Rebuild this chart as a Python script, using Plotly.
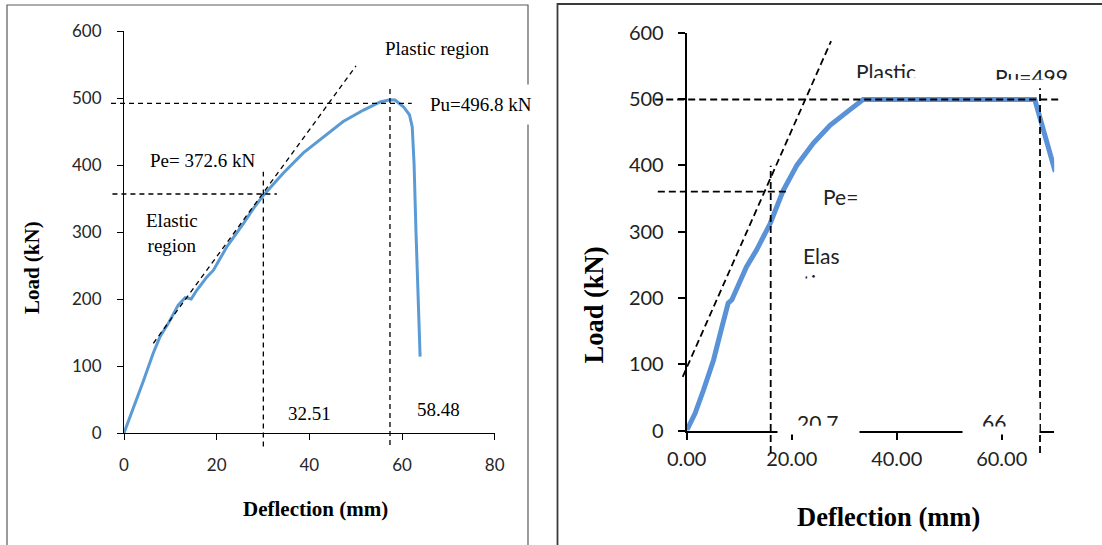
import plotly.graph_objects as go

W, H = 1102, 545

# ---------------- data ----------------
# Left specimen: load-deflection curve
left_defl = [0, 2.0, 4.2, 6.3, 7.8, 9.6, 11.7, 13.2, 14.5, 15.7, 17.9, 19.3, 22.2, 25.8, 27.9,
             30.1, 32.5, 34.4, 38.7, 43.0, 47.3, 51.7, 55.3, 57.4, 58.5, 60.3, 61.6, 62.2,
             62.6, 63.0, 63.5, 63.9]
left_load = [0, 36, 78, 119, 144, 164, 191, 202, 200, 213, 233, 243, 278, 313, 335,
             355, 374, 388, 418, 442, 465, 482, 494, 497.5, 497, 487, 475, 457,
             402, 303, 203, 114]

# Right specimen: load-deflection curve
right_defl = [0, 1.6, 3.2, 5.1, 6.7, 7.9, 8.6, 9.5, 11.4, 13.3, 15.9, 18.4, 21.0, 24.1,
              27.3, 30.5, 33.6, 66.3, 70.2]
right_load = [0, 26, 61, 106, 156, 192, 197, 212, 247, 272, 312, 362, 400, 433,
              460, 480, 499, 499, 390]

# Reference (construction) lines: [x0, y0, x1, y1] in deflection / load units
left_refs = [
    [-2.8, 492, 62.1, 492],        # Pu horizontal
    [57.4, -18, 57.4, 518],        # Pu vertical
    [-2.5, 356.7, 33.0, 356.7],    # Pe horizontal
    [30.07, -20, 30.07, 390],      # Pe vertical
    [6.33, 133.9, 50.07, 547.8],   # initial-stiffness tangent
]
right_refs = [
    [-6.0, 499, 70.8, 499],
    [67.3, -34, 67.3, 516],
    [-5.5, 360, 19.4, 360],
    [16.0, -34, 16.0, 399],
    [-0.76, 81, 27.5, 587],
]

left_xrange = [0, 80]
right_xrange = [0, 70]
load_range = [0, 600]
left_xticks = [0, 20, 40, 60, 80]
left_xticktext = ["0", "20", "40", "60", "80"]
right_xticks = [0, 20, 40, 60]
right_xticktext = ["0.00", "20.00", "40.00", "60.00"]
yticks = [0, 100, 200, 300, 400, 500, 600]

# ---------------- helpers ----------------
def px(x):
    return x / W

def py(y):
    return 1 - y / H

SERIF = "Liberation Serif"
SANS = "Lato"

fig = go.Figure()
fig.add_trace(go.Scatter(x=left_defl, y=left_load, mode="lines",
                         line=dict(color="#5B9BD5", width=3), xaxis="x", yaxis="y",
                         showlegend=False, hoverinfo="skip"))
fig.add_trace(go.Scatter(x=right_defl, y=right_load, mode="lines",
                         line=dict(color="#5A92D7", width=5), xaxis="x2", yaxis="y2",
                         showlegend=False, hoverinfo="skip"))

def frac(v, r):
    return (v - r[0]) / (r[1] - r[0])

shapes = []
def add_refs(refs, xa, ya, xr, yr, width, dash):
    for x0, y0, x1, y1 in refs:
        shapes.append(dict(type="line", xref=xa + " domain", yref=ya + " domain",
                           x0=frac(x0, xr), y0=frac(y0, yr), x1=frac(x1, xr), y1=frac(y1, yr),
                           line=dict(color="black", width=width, dash=dash), layer="above"))

add_refs(left_refs, "x", "y", left_xrange, load_range, 1.3, "5px,4px")
add_refs(right_refs, "x2", "y2", right_xrange, load_range, 1.8, "7px,4px")

# panel borders
shapes.append(dict(type="rect", xref="paper", yref="paper", x0=px(7), x1=px(528),
                   y0=py(5), y1=py(560), line=dict(color="#5a5a5a", width=1.2),
                   fillcolor="rgba(0,0,0,0)", layer="below"))
shapes.append(dict(type="rect", xref="paper", yref="paper", x0=px(557.5), x1=px(1120),
                   y0=py(4), y1=py(560), line=dict(color="#3a3a3a", width=1.8),
                   fillcolor="rgba(0,0,0,0)", layer="below"))

ann = []
def text(t, x, y, size, family=SERIF, color="black", bold=False, **kw):
    if bold:
        t = "<b>" + t + "</b>"
    d = dict(text=t, x=px(x), y=py(y), xref="paper", yref="paper", showarrow=False,
             font=dict(family=family, size=size, color=color), xanchor="center",
             yanchor="middle")
    d.update(kw)
    ann.append(d)

# left panel texts
text("Plastic region", 437, 48, 19)
text("Pe= 372.6 kN", 202, 161, 19)
text("Elastic<br>region", 172, 233, 19)
text("32.51", 309.5, 413.3, 19)
text("58.48", 438.6, 409.3, 19)
text("Pu=496.8 kN", 480.5, 104, 19, bgcolor="white", borderpad=9)
text("Load (kN)", 31.6, 267.5, 21, bold=True, textangle=-90)
text("Deflection (mm)", 315, 509, 21, bold=True)

# right panel titles
text("Load (kN)", 593.5, 305, 26.5, bold=True, textangle=-90)
text("Deflection (mm)", 888.5, 517, 26.5, bold=True)

# right panel: white masking boxes over the axis
def box(x, y, w, h):
    ann.append(dict(text=" ", x=px(x), y=py(y), xref="paper", yref="paper", showarrow=False,
                    xanchor="left", yanchor="top", width=w, height=h, bgcolor="white",
                    borderpad=0, font=dict(size=10)))

box(777, 400, 81, 33)
box(961.7, 400, 76.3, 33)

# right panel: clipped text boxes
def clipped(t, x, y, w, h):
    ann.append(dict(text=t, x=px(x), y=py(y), xref="paper", yref="paper", showarrow=False,
                    xanchor="left", yanchor="top", width=w, height=h, align="left",
                    valign="top", borderpad=0,
                    font=dict(family=SANS, size=21, color="#222222")))

clipped("Plastic<br>region", 855, 57.6, 78, 19)
clipped("Pu=499<br>kN", 994, 62.6, 82, 15.7)
clipped("Pe=<br>372.6 kN", 822, 182.6, 60, 23.5)
clipped("Elas<br>tic region", 802, 242.3, 41, 35.5)
clipped("20.7", 796, 409.3, 52, 15.7)
clipped("66", 981, 407.6, 32, 17.4)

axis_common = dict(showgrid=False, zeroline=False, showline=True, linecolor="black",
                   ticks="outside", tickcolor="black", fixedrange=True)

fig.update_layout(
    width=W, height=H, margin=dict(l=0, r=0, t=0, b=0, autoexpand=False),
    paper_bgcolor="white", plot_bgcolor="white",
    font=dict(family=SANS),
    xaxis=dict(domain=[px(124), px(494.7)], range=left_xrange, tickvals=left_xticks,
               ticktext=left_xticktext, linewidth=1, ticklen=6, tickwidth=1,
               tickfont=dict(family=SANS, size=17, color="#262626"), anchor="y",
               ticklabelstandoff=11, **axis_common),
    yaxis=dict(domain=[py(433), py(31)], range=load_range, tickvals=yticks,
               linewidth=1, ticklen=6, tickwidth=1,
               tickfont=dict(family=SANS, size=17, color="#262626"), anchor="x",
               ticklabelstandoff=12, **axis_common),
    xaxis2=dict(domain=[px(686.7), px(1054.2)], range=right_xrange, tickvals=right_xticks,
                ticktext=right_xticktext, linewidth=2, ticklen=7, tickwidth=2,
                tickfont=dict(family=SANS, size=20, color="#222222"), anchor="y2",
                ticklabelstandoff=2, **axis_common),
    yaxis2=dict(domain=[py(430.5), py(32.5)], range=load_range, tickvals=yticks,
                linewidth=2, ticklen=7, tickwidth=2,
                tickfont=dict(family=SANS, size=20, color="#222222"), anchor="x2",
                ticklabelstandoff=10, **axis_common),
    shapes=shapes, annotations=ann,
)

fig.write_html("out.html")
